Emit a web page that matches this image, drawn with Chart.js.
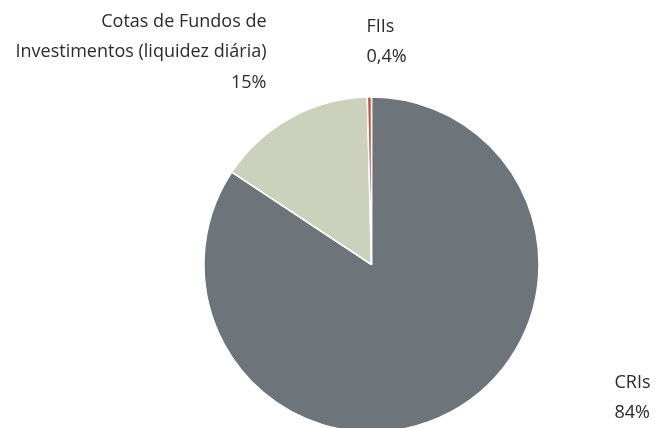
<!DOCTYPE html>
<html>
<head>
<meta charset="utf-8">
<script src="https://cdn.jsdelivr.net/npm/chart.js@4"></script>
<style>
  html, body { margin: 0; padding: 0; background: #fff; overflow: hidden; }
  #wrap { width: 655px; height: 428px; position: relative; }
</style>
</head>
<body>
<div id="wrap"><canvas id="myChart"></canvas></div>
<script>
// dados do gráfico
const categorias = ['CRIs', 'Cotas de Fundos de\nInvestimentos (liquidez diária)', 'FIIs']
const valores = [84.3, 15.3, 0.4]
const rotulos = ['84%', '15%', '0,4%']
const cores = ['#6d747a', '#ccd1bb', '#c8573f']

// posição dos rótulos em relação ao centro da pizza (dx, dy da primeira linha, alinhamento)
const posRotulos = [
  { dx: 243, dy: 118, align: 'left' },
  { dx: -105, dy: -243, align: 'right' },
  { dx: -5, dy: -238, align: 'left' }
]

const rotulosPlugin = {
  id: 'rotulos',
  afterDatasetsDraw(chart) {
    const ctx = chart.ctx
    const meta = chart.getDatasetMeta(0)
    ctx.save()
    ctx.font = '18px "Open Sans"'
    ctx.fillStyle = '#2b2b2b'
    ctx.textBaseline = 'middle'
    meta.data.forEach((arc, i) => {
      const p = posRotulos[i]
      const linhas = categorias[i].split('\n').concat([rotulos[i]])
      ctx.textAlign = p.align
      linhas.forEach((l, j) => {
        ctx.fillText(l, arc.x + p.dx, arc.y + p.dy + j * 30.5)
      })
    })
    ctx.restore()
  }
}

const ctx = document.getElementById('myChart')

new Chart(ctx, {
  type: 'pie',
  data: {
    labels: categorias,
    datasets: [{
      data: valores,
      backgroundColor: cores,
      borderColor: '#ffffff',
      borderWidth: 1.5,
      clip: false
    }]
  },
  options: {
    responsive: true,
    maintainAspectRatio: false,
    animation: false,
    radius: 167.5,
    layout: { padding: { top: 101, bottom: 0, left: 150, right: 62 } },
    plugins: {
      legend: { display: false },
      tooltip: { enabled: false }
    }
  },
  plugins: [rotulosPlugin]
})
</script>
</body>
</html>
